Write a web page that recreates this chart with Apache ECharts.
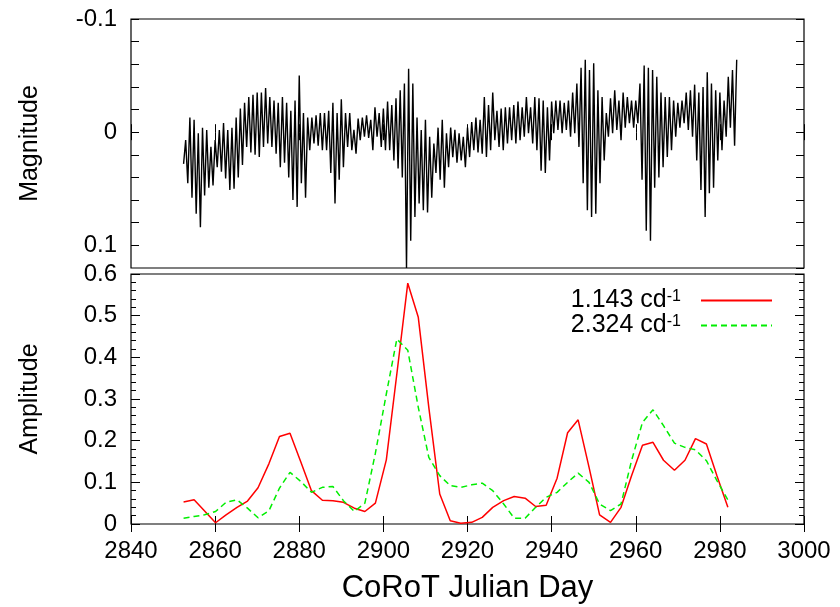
<!DOCTYPE html>
<html><head><meta charset="utf-8">
<script src="https://cdn.jsdelivr.net/npm/echarts@6/dist/echarts.min.js"></script>
<style>html,body{margin:0;padding:0;background:#fff}#c{width:840px;height:607px}</style>
</head><body><div id="c"></div><script>
// ---- Amplitude panel (bottom) ----
const ampDays = [2852.5,2855.0,2857.5,2860.1,2862.6,2865.2,2867.7,2870.2,2872.8,2875.3,
  2877.8,2880.4,2882.9,2885.5,2888.0,2890.5,2893.1,2895.6,2898.1,2900.7,
  2903.2,2905.8,2908.3,2910.8,2913.4,2915.9,2918.4,2921.0,2923.5,2926.0,
  2928.6,2931.1,2933.7,2936.2,2938.7,2941.3,2943.8,2946.3,2948.9,2951.4,
  2954.0,2956.5,2959.0,2961.6,2964.1,2966.6,2969.2,2971.7,2974.2,2976.8,
  2979.3,2981.9];
const amp1143 = [0.053,0.058,0.031,0.003,0.022,0.040,0.055,0.087,0.145,0.210,
  0.218,0.148,0.080,0.057,0.056,0.052,0.038,0.030,0.050,0.154,
  0.360,0.578,0.496,0.280,0.072,0.008,0.002,0.004,0.016,0.040,
  0.056,0.066,0.062,0.042,0.045,0.110,0.219,0.250,0.136,0.022,
  0.004,0.040,0.116,0.189,0.196,0.153,0.129,0.153,0.205,0.192,
  0.116,0.040];
const amp2324 = [0.014,0.018,0.022,0.030,0.052,0.058,0.038,0.015,0.032,0.086,
  0.124,0.102,0.076,0.088,0.090,0.056,0.030,0.050,0.170,0.312,
  0.444,0.417,0.280,0.160,0.116,0.092,0.088,0.094,0.098,0.080,
  0.048,0.014,0.014,0.040,0.064,0.076,0.100,0.122,0.100,0.048,
  0.032,0.048,0.152,0.244,0.274,0.236,0.194,0.184,0.178,0.152,
  0.104,0.058];
const seriesNames = ['1.143', '2.324'];

// ---- Light curve (top) ----
const lcTime = [2852.5,
  2853,2853.5,2854,2854.5,2855,2855.5,2856,2856.5,2857,2857.5,
  2858,2858.5,2859,2859.5,2860,2860.5,2861,2861.5,2862,2862.5,
  2863,2863.5,2864,2864.5,2865,2865.5,2866,2866.5,2867,2867.5,
  2868,2868.5,2869,2869.5,2870,2870.5,2871,2871.5,2872,2872.5,
  2873,2873.5,2874,2874.5,2875,2875.5,2876,2876.5,2877,2877.5,
  2878,2878.5,2879,2879.5,2880,2880.5,2881,2881.5,2882,2882.5,
  2883,2883.5,2884,2884.5,2885,2885.5,2886,2886.5,2887,2887.5,
  2888,2888.5,2889,2889.5,2890,2890.5,2891,2891.5,2892,2892.5,
  2893,2893.5,2894,2894.5,2895,2895.5,2896,2896.5,2897,2897.5,
  2898,2898.5,2899,2899.5,2900,2900.5,2901,2901.5,2902,2902.5,
  2903,2903.5,2904,2904.5,2905,2905.5,2906,2906.5,2907,2907.5,
  2908,2908.5,2909,2909.5,2910,2910.5,2911,2911.5,2912,2912.5,
  2913,2913.5,2914,2914.5,2915,2915.5,2916,2916.5,2917,2917.5,
  2918,2918.5,2919,2919.5,2920,2920.5,2921,2921.5,2922,2922.5,
  2923,2923.5,2924,2924.5,2925,2925.5,2926,2926.5,2927,2927.5,
  2928,2928.5,2929,2929.5,2930,2930.5,2931,2931.5,2932,2932.5,
  2933,2933.5,2934,2934.5,2935,2935.5,2936,2936.5,2937,2937.5,
  2938,2938.5,2939,2939.5,2940,2940.5,2941,2941.5,2942,2942.5,
  2943,2943.5,2944,2944.5,2945,2945.5,2946,2946.5,2947,2947.5,
  2948,2948.5,2949,2949.5,2950,2950.5,2951,2951.5,2952,2952.5,
  2953,2953.5,2954,2954.5,2955,2955.5,2956,2956.5,2957,2957.5,
  2958,2958.5,2959,2959.5,2960,2960.5,2961,2961.5,2962,2962.5,
  2963,2963.5,2964,2964.5,2965,2965.5,2966,2966.5,2967,2967.5,
  2968,2968.5,2969,2969.5,2970,2970.5,2971,2971.5,2972,2972.5,
  2973,2973.5,2974,2974.5,2975,2975.5,2976,2976.5,2977,2977.5,
  2978,2978.5,2979,2979.5,2980,2980.5,2981,2981.5,2982,2982.5,
  2983,2983.5,2984];
const lcMag = [0.028,
  0.007,0.045,-0.013,0.058,-0.011,0.072,0.001,0.084,-0.004,0.056,
  -0.002,0.049,0.013,0.047,0.007,0.031,-0.002,0.035,-0.008,0.041,
  -0.002,0.051,-0.004,0.050,-0.013,0.040,-0.021,0.029,-0.026,0.013,
  -0.031,0.018,-0.033,0.020,-0.035,0.022,-0.035,0.013,-0.039,0.010,
  -0.031,0.013,-0.028,0.019,-0.026,0.031,-0.031,0.027,-0.026,0.040,
  -0.019,0.060,-0.028,0.066,-0.050,0.045,-0.017,0.058,-0.013,0.016,
  -0.013,0.010,-0.015,0.012,-0.017,0.016,-0.017,0.016,-0.019,0.036,
  -0.026,0.063,-0.017,0.042,-0.029,0.031,-0.017,0.013,-0.017,0.016,
  -0.002,0.019,-0.012,0.007,-0.013,0.004,-0.015,0.005,-0.011,0.016,
  -0.022,0.004,-0.017,0.013,-0.021,0.016,-0.027,0.016,-0.024,0.025,
  -0.030,0.032,-0.037,0.040,-0.043,0.120,-0.056,0.096,-0.043,0.075,
  -0.013,0.063,-0.002,0.069,-0.011,0.071,0.004,0.058,0.010,0.036,
  -0.004,0.042,-0.011,0.049,0.001,0.031,-0.004,0.022,-0.002,0.027,
  0.001,0.025,0.004,0.031,-0.004,0.022,-0.009,0.016,-0.013,0.018,
  -0.011,0.019,-0.031,0.022,-0.024,0.016,-0.035,0.007,-0.019,0.013,
  -0.021,0.016,-0.022,0.010,-0.022,0.007,-0.024,0.010,-0.027,0.007,
  -0.022,0.004,-0.031,0.001,-0.022,0.010,-0.031,0.016,-0.030,0.034,
  -0.028,0.036,-0.022,0.025,-0.027,0.001,-0.028,-0.002,-0.028,0.001,
  -0.026,-0.002,-0.028,0.004,-0.035,0.001,-0.043,0.013,-0.057,0.045,
  -0.064,0.069,-0.055,0.075,-0.061,0.072,-0.037,0.045,-0.031,0.025,
  -0.017,0.004,-0.030,0.001,-0.037,-0.002,-0.028,0.007,-0.035,-0.004,
  -0.031,-0.008,-0.028,-0.004,-0.028,-0.008,-0.043,0.042,-0.059,0.087,
  -0.057,0.096,-0.055,0.049,-0.049,0.040,-0.035,0.031,-0.031,0.022,
  -0.031,0.016,-0.028,0.004,-0.026,-0.004,-0.028,-0.008,-0.035,-0.002,
  -0.037,0.004,-0.042,0.025,-0.035,0.051,-0.040,0.075,-0.053,0.054,
  -0.043,0.049,-0.037,0.025,-0.035,0.016,-0.028,0.004,-0.049,-0.004,
  -0.055,0.012,-0.064];

// ---- Axis ticks ----
const dayTicks = [2840, 3000, 20];      // min, max, step
const magTicks = [-0.1, 0.12, 0.02];    // min, max, step (labels at -0.1, 0, 0.1)
const ampTicks = [0, 0.6, 0.1];

const FONT = '"Liberation Sans", Arial, Helvetica, sans-serif';
const pair = (xs, ys) => xs.map((x, i) => [x, ys[i]]);
const magLabel = v => { const r = Math.round(v * 10); return Math.abs(v * 10 - r) < 1e-6 ? String(r / 10) : ''; };
const ampLabel = v => String(Math.round(v * 10) / 10);

const tickCol = '#000';
function xAx(grid, pos, labels, extra) {
  return Object.assign({
    gridIndex: grid, type: 'value', position: pos,
    min: dayTicks[0], max: dayTicks[1], interval: dayTicks[2],
    axisLine: { show: false },
    axisTick: { show: true, inside: true, length: 8, lineStyle: { color: tickCol, width: 1 } },
    axisLabel: { show: labels, fontSize: 24, color: '#000', fontFamily: FONT, margin: 15, formatter: v => String(v) },
    splitLine: { show: false }
  }, extra || {});
}

const chart = echarts.init(document.getElementById('c'), null, { renderer: 'canvas' });
chart.setOption({
  animation: false,
  backgroundColor: '#fff',
  textStyle: { fontFamily: FONT },
  grid: [
    { left: 131, right: 36, top: 19, height: 249, show: true, borderColor: '#000', borderWidth: 1.2, backgroundColor: 'transparent' },
    { left: 131, right: 36, top: 274, height: 250, show: true, borderColor: '#000', borderWidth: 1.2, backgroundColor: 'transparent' }
  ],
  xAxis: [
    xAx(0, 'bottom', false),
    xAx(0, 'top', false),
    xAx(1, 'bottom', true, {
      name: 'CoRoT Julian Day', nameLocation: 'middle', nameGap: 49,
      nameTextStyle: { fontSize: 31, color: '#000', fontFamily: FONT }
    }),
    xAx(1, 'top', false)
  ],
  yAxis: [
    {
      gridIndex: 0, type: 'value', position: 'left', inverse: true,
      min: magTicks[0], max: magTicks[1], interval: magTicks[2],
      axisLine: { show: false },
      axisTick: { inside: true, length: 8, lineStyle: { color: tickCol } },
      axisLabel: { fontSize: 24, color: '#000', fontFamily: FONT, margin: 14, formatter: magLabel, showMaxLabel: false },
      splitLine: { show: false },
      name: 'Magnitude', nameLocation: 'middle', nameGap: 88,
      nameTextStyle: { fontSize: 25, color: '#000', fontFamily: FONT }
    },
    {
      gridIndex: 0, type: 'value', position: 'right', inverse: true,
      min: magTicks[0], max: magTicks[1], interval: magTicks[2],
      axisLine: { show: false },
      axisTick: { inside: true, length: 8, lineStyle: { color: tickCol } },
      axisLabel: { show: false }, splitLine: { show: false }
    },
    {
      gridIndex: 1, type: 'value', position: 'left',
      min: ampTicks[0], max: ampTicks[1], interval: ampTicks[2],
      axisLine: { show: false },
      axisTick: { inside: true, length: 9, lineStyle: { color: tickCol } },
      minorTick: { show: true, splitNumber: 5, length: 5, lineStyle: { color: tickCol } },
      axisLabel: { fontSize: 24, color: '#000', fontFamily: FONT, margin: 14, formatter: ampLabel },
      splitLine: { show: false },
      name: 'Amplitude', nameLocation: 'middle', nameGap: 88,
      nameTextStyle: { fontSize: 25, color: '#000', fontFamily: FONT }
    },
    {
      gridIndex: 1, type: 'value', position: 'right',
      min: ampTicks[0], max: ampTicks[1], interval: ampTicks[2],
      axisLine: { show: false },
      axisTick: { inside: true, length: 9, lineStyle: { color: tickCol } },
      minorTick: { show: true, splitNumber: 5, length: 5, lineStyle: { color: tickCol } },
      axisLabel: { show: false }, splitLine: { show: false }
    }
  ],
  legend: {
    data: seriesNames, orient: 'vertical', align: 'right',
    right: 62, top: 283, itemWidth: 71, itemHeight: 14, itemGap: 0,
    selectedMode: false,
    itemStyle: { opacity: 0, borderWidth: 0 },
    formatter: n => '{a|' + n + ' cd}{s|-1}',
    textStyle: {
      color: '#000', fontFamily: FONT,
      rich: {
        a: { fontSize: 25, lineHeight: 23, color: '#000', fontFamily: FONT },
        s: { fontSize: 16, lineHeight: 12, verticalAlign: 'top', color: '#000', fontFamily: FONT, padding: [0, 15, 0, 0] }
      }
    }
  },
  series: [
    {
      type: 'line', xAxisIndex: 0, yAxisIndex: 0, data: pair(lcTime, lcMag),
      symbol: 'none', showSymbol: false, silent: true, clip: true,
      lineStyle: { color: '#000', width: 1.4 }
    },
    {
      type: 'line', name: seriesNames[0], xAxisIndex: 2, yAxisIndex: 2, data: pair(ampDays, amp1143),
      symbol: 'none', showSymbol: false,
      lineStyle: { color: '#ff0000', width: 1.5 }, itemStyle: { color: '#ff0000' }
    },
    {
      type: 'line', name: seriesNames[1], xAxisIndex: 2, yAxisIndex: 2, data: pair(ampDays, amp2324),
      symbol: 'none', showSymbol: false,
      lineStyle: { color: '#00ee00', width: 1.5, type: [6, 4] }, itemStyle: { color: '#00ee00' }
    }
  ]
});
</script></body></html>
